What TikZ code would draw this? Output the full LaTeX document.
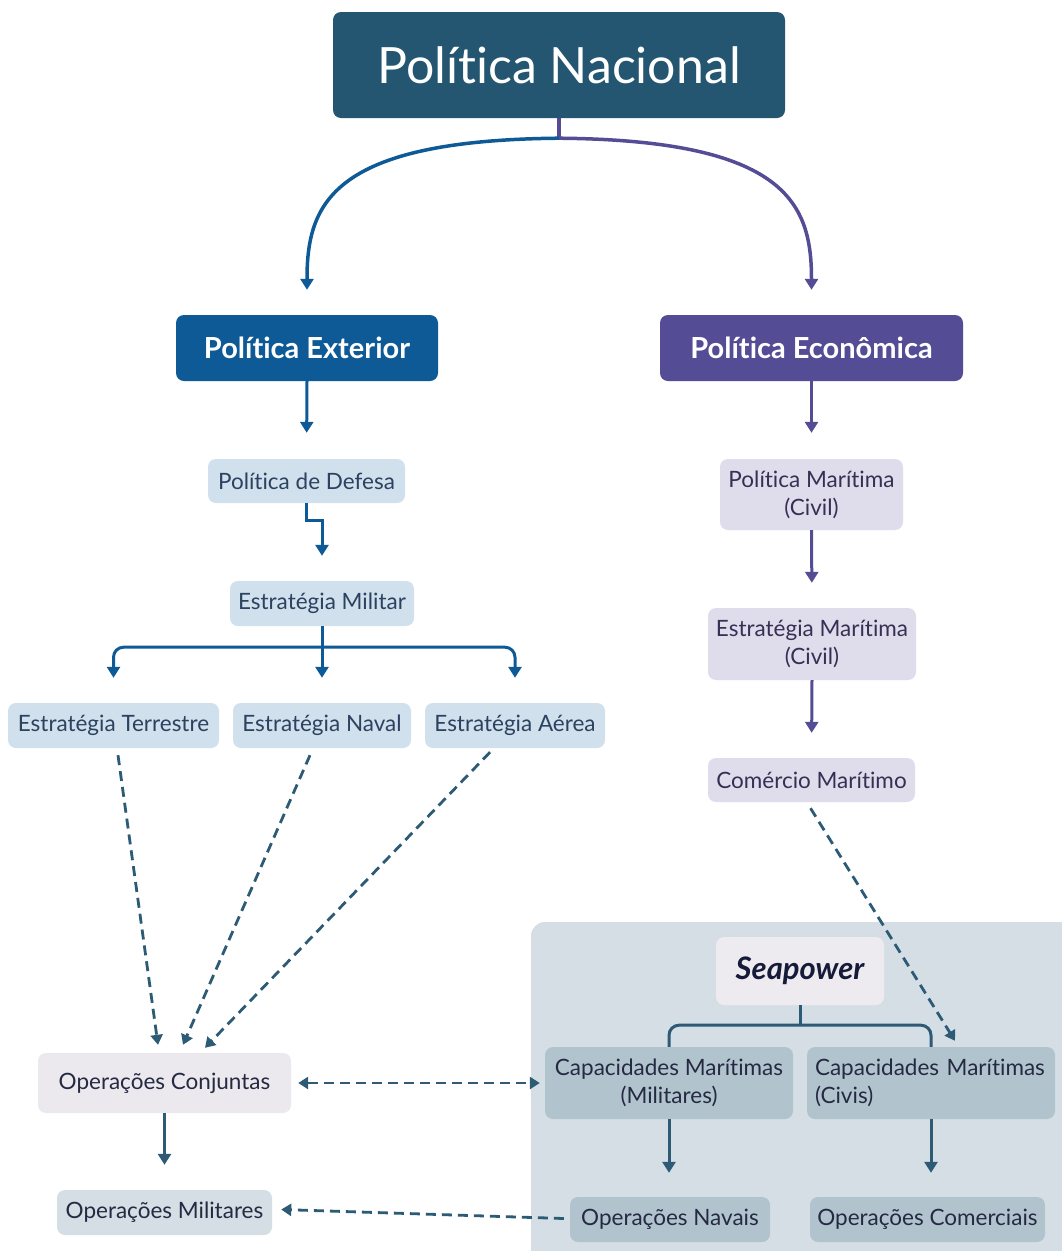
\documentclass[tikz,border=0pt]{standalone}
\usepackage{fontspec}
\setmainfont{Lato}[Ligatures=NoCommon]
\usetikzlibrary{arrows.meta,calc}
\definecolor{nacfill}{HTML}{245672}
\definecolor{extfill}{HTML}{0E5A96}
\definecolor{ecofill}{HTML}{544D96}
\definecolor{lblue}{HTML}{D0E0EC}
\definecolor{lpurp}{HTML}{DFDDEB}
\definecolor{lpink}{HTML}{ECE9EE}
\definecolor{lgray}{HTML}{D5DEE4}
\definecolor{grpfill}{HTML}{D5DEE4}
\definecolor{seafill}{HTML}{EDEBEF}
\definecolor{capfill}{HTML}{B1C4CE}
\definecolor{tealline}{HTML}{2D5A74}
\definecolor{blueline}{HTML}{0E5A96}
\definecolor{purpline}{HTML}{544D96}
\definecolor{txtblue}{HTML}{2C4260}
\definecolor{txtpurp}{HTML}{382F55}
\definecolor{txtdark}{HTML}{252A42}
\definecolor{txtsea}{HTML}{161B3A}
\begin{document}
\begin{tikzpicture}[x=1pt,y=-1pt,
  box/.style={rounded corners=8pt, inner sep=0pt, align=center, font=\fontsize{22.5}{28}\selectfont},
  bigbox/.style={box, text=white, font=\fontsize{29}{32}\selectfont\bfseries},
  lbbox/.style={box, fill=lblue, text=txtblue},
  lpbox/.style={box, fill=lpurp, text=txtpurp},
  capbox/.style={box, fill=capfill, text=txtdark},
  arr/.style={-{Triangle[length=11pt,width=13pt]}},
  darr/.style={-{Triangle[length=10pt,width=12pt]}},
  bl/.style={line width=3pt, draw=blueline},
  pl/.style={line width=3pt, draw=purpline},
  tl/.style={line width=3pt, draw=tealline},
  dl/.style={line width=2.8pt, draw=tealline, dash pattern=on 10pt off 6pt},
]
\useasboundingbox (0,0) rectangle (1061,1251);
\fill[white] (0,0) rectangle (1061,1251);

% Seapower group background
\fill[grpfill, rounded corners=14pt] (531,922) rectangle (1085,1275);

% nodes
\node[box, fill=nacfill, text=white, minimum width=452pt, minimum height=106pt,
      font=\fontsize{50}{54}\selectfont] (nac) at (559,65) {Política Nacional};
\node[bigbox, fill=extfill, minimum width=262pt, minimum height=66pt] (ext) at (307,348) {Política Exterior};
\node[bigbox, fill=ecofill, minimum width=303pt, minimum height=66pt] (eco) at (811.5,348) {Política Econômica};

\node[lbbox, minimum width=197pt, minimum height=44pt] (def) at (306.5,481) {Política de Defesa};
\node[lbbox, minimum width=184pt, minimum height=45pt] (em) at (322,603.5) {Estratégia Militar};
\node[lbbox, minimum width=211pt, minimum height=45pt] (et) at (113.5,725.5) {Estratégia Terrestre};
\node[lbbox, minimum width=178pt, minimum height=45pt] (en) at (322,725.5) {Estratégia Naval};
\node[lbbox, minimum width=180pt, minimum height=45pt] (ea) at (515,725.5) {Estratégia Aérea};

\node[box, fill=lpink, text=txtdark, minimum width=253pt, minimum height=60pt] (oc) at (164.5,1083) {Operações Conjuntas};
\node[box, fill=lgray, text=txtdark, minimum width=215pt, minimum height=45pt] (om) at (164.5,1212.5) {Operações Militares};

\node[lpbox, minimum width=183pt, minimum height=71pt] (pm) at (811.5,494.5) {Política Marítima\\(Civil)};
\node[lpbox, minimum width=208pt, minimum height=72pt] (esm) at (812,644) {Estratégia Marítima\\(Civil)};
\node[lpbox, minimum width=207pt, minimum height=44pt] (com) at (811.5,780) {Comércio Marítimo};

\node[box, fill=seafill, text=txtsea, minimum width=168pt, minimum height=68pt,
      font=\fontsize{31}{34}\selectfont\bfseries\itshape] (sea) at (800,971) {Seapower};
\node[capbox, minimum width=248pt, minimum height=72pt] (cmm) at (669,1083) {Capacidades Marítimas\\(Militares)};
\node[capbox, minimum width=248pt, minimum height=72pt, text width=232pt, inner xsep=8pt, align=left] (cmc) at (931,1083) {Capacidades Marítimas\\(Civis)};
\node[capbox, minimum width=200pt, minimum height=45pt] (on) at (670,1219.5) {Operações Navais};
\node[capbox, minimum width=235pt, minimum height=45pt] (ocm) at (927.5,1219.5) {Operações Comerciais};

% top split
\coordinate (nacsplit) at ($(nac.south)+(0,20)$);
\draw[line width=3.5pt, draw=purpline] (nac.south) -- (nacsplit);
\draw[line width=3.5pt, draw=blueline, arr, shorten >=25pt] (nacsplit) .. controls +(-229,2) and +(0,-110) .. (ext.north);
\draw[line width=3.5pt, draw=purpline, arr, shorten >=25pt] (nacsplit) .. controls +(229,2) and +(0,-110) .. (eco.north);

% left column
\draw[bl, arr, shorten >=26pt] (ext.south) -- (def.north);
\draw[bl, arr, shorten >=25pt] (def.south) -- ++(0,17) -| (em.north);
\coordinate (emsplit) at ($(em.south)+(0,21)$);
\draw[bl] (em.south) -- (emsplit);
\draw[bl, arr, shorten >=25pt] (emsplit) -- (en.north);
\draw[bl, arr, shorten >=25pt, rounded corners=10pt] (emsplit) -| (et.north);
\draw[bl, arr, shorten >=25pt, rounded corners=10pt] (emsplit) -| (ea.north);

\draw[dl, darr] ($(et.south)+(4.5,7)$) -- ($(oc.north)+(-6.5,-8)$);
\draw[dl, darr] ($(en.south)+(-12,7)$) -- ($(oc.north)+(18.5,-8)$);
\draw[dl, darr] ($(ea.south)+(-25,4)$) -- ($(oc.north)+(40.5,-5)$);

\draw[tl, arr, shorten >=25pt] (oc.south) -- (om.north);
\draw[dl, {Triangle[length=10pt,width=12pt]}-{Triangle[length=10pt,width=12pt]}, shorten <=7pt, shorten >=5pt] (oc.east) -- (cmm.west);
\draw[dl, darr] ($(on.west)+(-6,-1)$) -- ($(om.east)+(9,-3)$);

% right column
\draw[pl, arr, shorten >=26pt] (eco.south) -- (pm.north);
\draw[pl, arr, shorten >=25pt] (pm.south) -- (esm.north);
\draw[pl, arr, shorten >=25pt] (esm.south) -- (com.north);
\draw[dl, darr] ($(com.south)+(-1,6)$) -- ($(cmc.north)+(24,-6)$);

% seapower
\coordinate (seasplit) at ($(sea.south)+(0,20)$);
\draw[tl] (sea.south) -- (seasplit);
\draw[tl, rounded corners=10pt] (seasplit) -| (cmm.north);
\draw[tl, rounded corners=10pt] (seasplit) -| (cmc.north);
\draw[tl, arr, shorten >=24pt] (cmm.south) -- (cmm.south |- on.north);
\draw[tl, arr, shorten >=24pt] (cmc.south) -- (cmc.south |- ocm.north);
\end{tikzpicture}
\end{document}
